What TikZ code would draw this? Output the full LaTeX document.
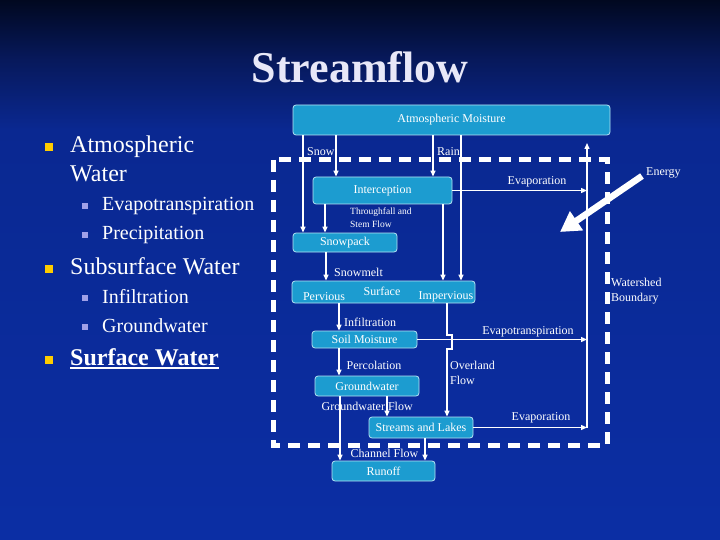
\documentclass[tikz,border=0pt]{standalone}
\usepackage{fontspec}
\setmainfont{Liberation Serif}
\usetikzlibrary{arrows.meta}
\definecolor{bgtop}{HTML}{010820}
\definecolor{bgupper}{HTML}{07195C}
\definecolor{bgmid}{HTML}{0A2891}
\definecolor{bgbot}{HTML}{0B2EA4}
\definecolor{boxfill}{HTML}{1C9CD0}
\definecolor{boxline}{HTML}{B5E3F3}
\definecolor{bulyellow}{HTML}{FFCC00}
\definecolor{bulpurple}{HTML}{A0A0E8}
\definecolor{titlecol}{HTML}{E8E8F8}
\pgfdeclareverticalshading{bgshade}{100bp}{color(0bp)=(bgbot); color(25bp)=(bgbot); color(63bp)=(bgmid); color(69.4bp)=(bgupper); color(75bp)=(bgtop); color(100bp)=(bgtop)}
\tikzset{
  flowbox/.style={draw=boxline, line width=0.8pt, fill=boxfill, rounded corners=3pt, inner sep=0pt, text=white, font=\fontsize{12}{14}\selectfont},
  lbl/.style={inner sep=0pt, text=white, font=\fontsize{12}{14}\selectfont},
  smalllbl/.style={inner sep=0pt, text=white, font=\fontsize{9.5}{12.4}\selectfont, align=left},
  arr/.style={draw=white, line width=1.3pt, -{Triangle[length=6pt,width=5pt]}},
  boundary/.style={draw=white, line width=5pt, dash pattern=on 12pt off 8pt},
  mainitem/.style={anchor=base west, inner sep=0pt, text=white, font=\fontsize{24}{28}\selectfont},
  subitem/.style={anchor=base west, inner sep=0pt, text=white, font=\fontsize{20}{24}\selectfont},
  mainbul/.style={fill=bulyellow, minimum size=8pt, inner sep=0pt},
  subbul/.style={fill=bulpurple, minimum size=6pt, inner sep=0pt}
}
\begin{document}
\begin{tikzpicture}[x=1pt,y=-1pt]
\useasboundingbox (0,0) rectangle (720,540);
\shade[shading=bgshade] (0,0) rectangle (720,540);

% title
\node[anchor=base, inner sep=0pt, text=titlecol, font=\bfseries\fontsize{44}{50}\selectfont] (title) at (360,83) {Streamflow};

% bullet list
\node[mainbul] (b1) at (49,147.5) {};
\node[mainitem] (t1) at (70,153) {Atmospheric};
\node[mainitem] (t1b) at (70,182) {Water};
\node[subbul] (s1) at (85,206) {};
\node[subitem] (t2) at (102,211) {Evapotranspiration};
\node[subbul] (s2) at (85,235) {};
\node[subitem] (t3) at (102,240) {Precipitation};
\node[mainbul] (b2) at (49,268.5) {};
\node[mainitem] (t4) at (70,274) {Subsurface Water};
\node[subbul] (s3) at (85,298) {};
\node[subitem] (t5) at (102,303) {Infiltration};
\node[subbul] (s4) at (85,327) {};
\node[subitem] (t6) at (102,332) {Groundwater};
\node[mainbul] (b3) at (49,359.5) {};
\node[mainitem, font=\bfseries\fontsize{24}{28}\selectfont] (t7) at (70,365) {Surface Water};
\draw[white, line width=1.6pt] (70,368) -- (t7.east |- 0,368);

% watershed boundary
\draw[boundary] (273,160) rectangle (607,445);

% boxes
\node[flowbox, minimum width=317pt, minimum height=30pt] (atm) at (451.5,120) {Atmospheric Moisture};
\node[flowbox, minimum width=139pt, minimum height=27pt] (inter) at (382.5,190.5) {Interception};
\node[flowbox, minimum width=104pt, minimum height=19pt] (snowpack) at (345,242.5) {Snowpack};
\node[flowbox, minimum width=183pt, minimum height=22pt] (surface) at (383.5,292) {};
\node[lbl] (surf) at (382,291.5) {Surface};
\node[lbl] (perv) at (324,296.5) {Pervious};
\node[lbl] (imperv) at (446,296.5) {Impervious};
\node[flowbox, minimum width=105pt, minimum height=17pt] (soil) at (364.5,339.5) {Soil Moisture};
\node[flowbox, minimum width=104pt, minimum height=20pt] (gw) at (367,386) {Groundwater};
\node[flowbox, minimum width=104pt, minimum height=21pt] (streams) at (421,427.5) {Streams and Lakes};
\node[flowbox, minimum width=103pt, minimum height=20pt] (runoff) at (383.5,471) {Runoff};

% helper coordinates
\coordinate (evtop) at (587,143);
\coordinate (evbot) at (587,427.5);
\coordinate (ovA) at (447,335);
\coordinate (ovB) at (452,335);
\coordinate (ovC) at (452,349);
\coordinate (ovD) at (447,349);

% connectors
\draw[arr] (atm.south -| 303,0) -- (snowpack.north -| 303,0);
\draw[arr] (atm.south -| 336,0) -- (inter.north -| 336,0);
\draw[arr] (atm.south -| 433,0) -- (inter.north -| 433,0);
\draw[arr] (atm.south -| 461,0) -- (surface.north -| 461,0);
\draw[arr] (inter.south -| 443,0) -- (surface.north -| 443,0);
\draw[arr] (inter.south -| 325,0) -- (snowpack.north -| 325,0);
\draw[arr] (inter.east) -- (inter.east -| evtop);
\draw[arr] (evbot) -- (evtop);
\draw[arr] (snowpack.south -| 326,0) -- (surface.north -| 326,0);
\draw[arr] (surface.south -| 339,0) -- (soil.north -| 339,0);
\draw[arr] (soil.east) -- (soil.east -| evtop);
\draw[arr] (surface.south -| ovA) -- (ovA) -- (ovB) -- (ovC) -- (ovD) -- (streams.north -| ovD);
\draw[arr] (soil.south -| 339,0) -- (gw.north -| 339,0);
\draw[arr] (gw.south -| 387,0) -- (streams.north -| 387,0);
\draw[arr] (gw.south -| 340,0) -- (runoff.north -| 340,0);
\draw[arr] (streams.east) -- (evbot);
\draw[arr] (streams.south -| 425,0) -- (runoff.north -| 425,0);

% labels
\node[lbl, anchor=west] (lsnow) at (307,152) {Snow};
\node[lbl, anchor=west] (lrain) at (437,152) {Rain};
\node[lbl] (levap1) at (537,182) {Evaporation};
\node[smalllbl, anchor=north west] (lthrough) at (350,208) {Throughfall and\\Stem Flow};
\node[lbl, anchor=west] (lsnowmelt) at (334,272) {Snowmelt};
\node[lbl, anchor=west] (linfil) at (344,322) {Infiltration};
\node[lbl] (levapo) at (528,332) {Evapotranspiration};
\node[lbl, anchor=west] (lperc) at (346.5,365) {Percolation};
\node[lbl, anchor=north west, align=left, font=\fontsize{12}{14.5}\selectfont] (lover) at (450,361) {Overland\\Flow};
\node[lbl, anchor=west] (lgwflow) at (321.5,406.5) {Groundwater Flow};
\node[lbl] (levap2) at (541,418) {Evaporation};
\node[lbl, anchor=west] (lchannel) at (350.5,453) {Channel Flow};
\node[lbl, anchor=west] (lenergy) at (646,173) {Energy};
\node[lbl, anchor=north west, align=left, font=\fontsize{12}{14.5}\selectfont] (lwater) at (611,278) {Watershed\\Boundary};

% energy arrow
\coordinate (entail) at (642,176);
\coordinate (entip) at (560,232);
\draw[white, line width=6.5pt, -{Triangle[length=20pt,width=22pt]}] (entail) -- (entip);
\end{tikzpicture}
\end{document}
